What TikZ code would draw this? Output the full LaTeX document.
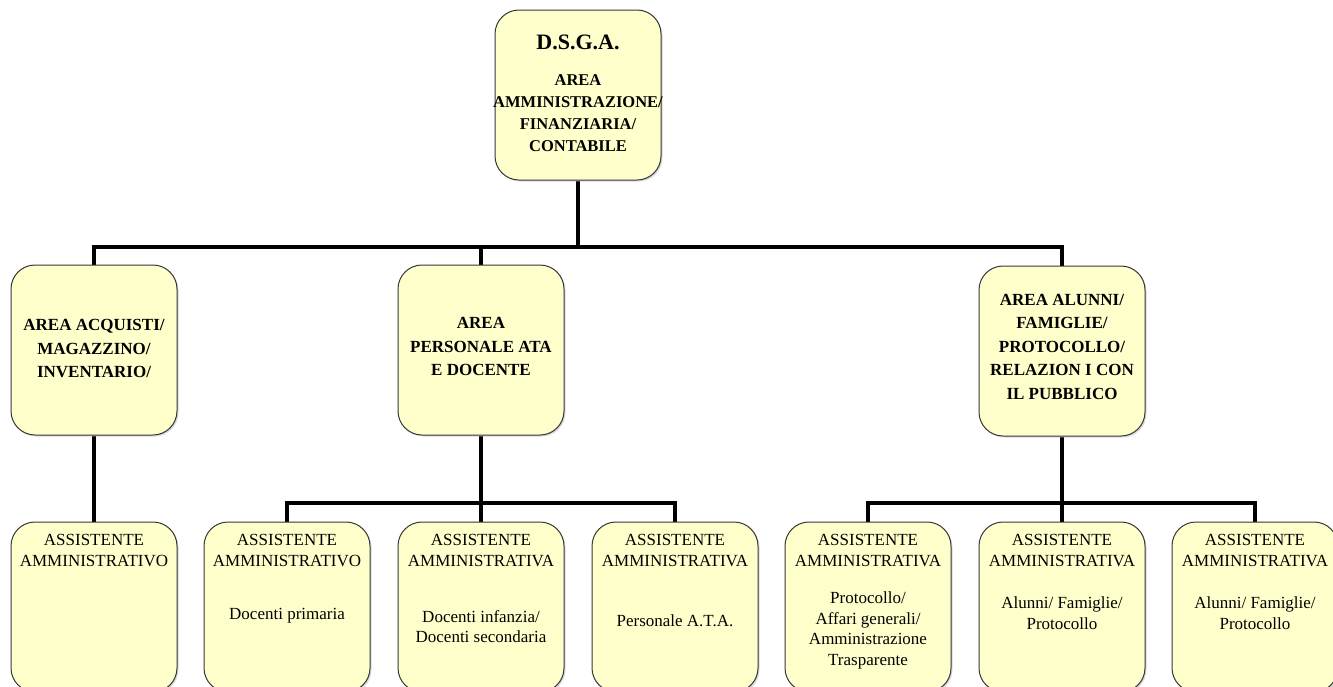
\documentclass[tikz,border=0pt]{standalone}
\usepackage{fontspec}
\setmainfont{Liberation Serif}
\usetikzlibrary{backgrounds,shadows}
\definecolor{boxfill}{RGB}{255,255,204}
\definecolor{boxline}{RGB}{55,55,55}
\tikzset{
  orgbox/.style={draw=boxline, line width=1pt, fill=boxfill, rounded corners=24pt,
    minimum width=166pt, minimum height=170pt, inner sep=0pt,
    drop shadow={shadow xshift=1.5pt, shadow yshift=-1.5pt, fill=black!30}},
  conn/.style={line width=4pt, draw=black},
  titletxt/.style={align=center, inner sep=0pt, font=\fontsize{22pt}{26pt}\selectfont\bfseries},
  boldtxt/.style={align=center, inner sep=0pt, font=\fontsize{16.5pt}{22pt}\selectfont\bfseries},
  areatxt/.style={align=center, inner sep=0pt, font=\fontsize{17pt}{23.5pt}\selectfont\bfseries},
  plaintxt/.style={align=center, inner sep=0pt, font=\fontsize{17pt}{20.5pt}\selectfont}
}
\begin{document}
\begin{tikzpicture}[x=1pt,y=-1pt]
\clip (0,0) rectangle (1333,686);
% boxes
\node[orgbox] (top) at (578,95) {};
\node[orgbox] (a1) at (94,350) {};
\node[orgbox] (a2) at (481,350) {};
\node[orgbox] (a3) at (1062,351) {};
\node[orgbox] (b1) at (94,607) {};
\node[orgbox] (b2) at (287,607) {};
\node[orgbox] (b3) at (481,607) {};
\node[orgbox] (b4) at (675,607) {};
\node[orgbox] (b5) at (868,607) {};
\node[orgbox] (b6) at (1062,607) {};
\node[orgbox] (b7) at (1255,607) {};
% texts
\node[titletxt] (t0) at (578,42) {D.S.G.A.};
\node[boldtxt] (t0b) at (578,113) {AREA\\AMMINISTRAZIONE/\\FINANZIARIA/\\CONTABILE};
\node[areatxt] (ta1) at (94,348.5) {AREA ACQUISTI/\\MAGAZZINO/\\INVENTARIO/};
\node[areatxt] (ta2) at (481,346.5) {AREA\\PERSONALE ATA\\E DOCENTE};
\node[areatxt] (ta3) at (1062,346.5) {AREA ALUNNI/\\FAMIGLIE/\\PROTOCOLLO/\\RELAZION I CON\\IL PUBBLICO};
\node[plaintxt] (h1) at (94,550.5) {ASSISTENTE\\AMMINISTRATIVO};
\node[plaintxt] (h2) at (287,550.5) {ASSISTENTE\\AMMINISTRATIVO};
\node[plaintxt] (h3) at (481,550.5) {ASSISTENTE\\AMMINISTRATIVA};
\node[plaintxt] (h4) at (675,550.5) {ASSISTENTE\\AMMINISTRATIVA};
\node[plaintxt] (h5) at (868,550.5) {ASSISTENTE\\AMMINISTRATIVA};
\node[plaintxt] (h6) at (1062,550.5) {ASSISTENTE\\AMMINISTRATIVA};
\node[plaintxt] (h7) at (1255,550.5) {ASSISTENTE\\AMMINISTRATIVA};
\node[plaintxt] (d2) at (287,616) {Docenti primaria};
\node[plaintxt] (d3) at (481,626.5) {Docenti infanzia/\\Docenti secondaria};
\node[plaintxt] (d4) at (675,621) {Personale A.T.A.};
\node[plaintxt] (d5) at (868,630.5) {Protocollo/\\Affari generali/\\Amministrazione\\Trasparente};
\node[plaintxt] (d6) at (1062,613) {Alunni/ Famiglie/\\Protocollo};
\node[plaintxt] (d7) at (1255,613) {Alunni/ Famiglie/\\Protocollo};
% connectors
\begin{scope}[on background layer]
\coordinate (j0) at (578,247);
\coordinate (j2) at (481,503);
\coordinate (j3) at (1062,503);
\draw[conn] (top.south) -- (j0);
\draw[conn] (a1.north) |- (j0) -| (a3.north);
\draw[conn] (a2.north) -- (a2.north |- j0);
\draw[conn] (a1.south) -- (b1.north);
\draw[conn] (a2.south) -- (j2);
\draw[conn] (b2.north) |- (j2) -| (b4.north);
\draw[conn] (b3.north) -- (j2);
\draw[conn] (a3.south) -- (j3);
\draw[conn] (b5.north) |- (j3) -| (b7.north);
\draw[conn] (b6.north) -- (j3);
\end{scope}
\end{tikzpicture}
\end{document}
